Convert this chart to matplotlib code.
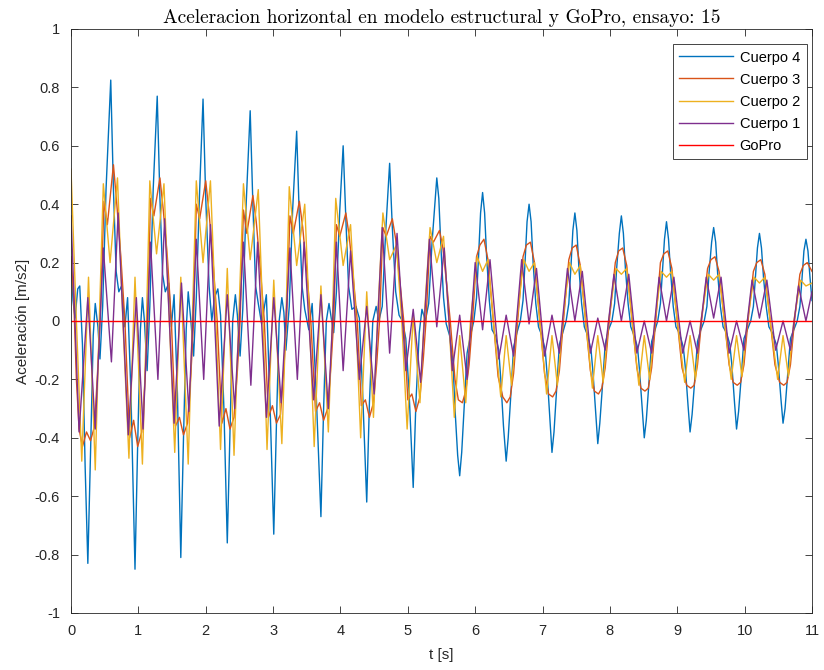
import matplotlib
matplotlib.use("Agg")
import matplotlib.pyplot as plt

plt.rcParams['font.family'] = ['Liberation Sans', 'DejaVu Sans']
plt.rcParams['axes.unicode_minus'] = False

# Cuerpo 4
t_c4 = [0.00, 0.03, 0.06, 0.10, 0.13, 0.17, 0.21, 0.25,
        0.29, 0.33, 0.36, 0.40, 0.43, 0.47, 0.52, 0.59,
        0.63, 0.67, 0.71, 0.75, 0.80, 0.84, 0.89, 0.95,
        0.99, 1.03, 1.06, 1.09, 1.13, 1.17, 1.22, 1.28,
        1.32, 1.36, 1.40, 1.45, 1.49, 1.53, 1.58, 1.63,
        1.67, 1.71, 1.74, 1.78, 1.82, 1.86, 1.91, 1.96,
        2.00, 2.05, 2.09, 2.13, 2.18, 2.22, 2.27, 2.32,
        2.36, 2.40, 2.44, 2.47, 2.51, 2.55, 2.60, 2.66,
        2.70, 2.74, 2.78, 2.83, 2.90, 2.95, 3.01,
        3.05, 3.09, 3.13, 3.16, 3.19, 3.24, 3.29, 3.35,
        3.39, 3.43, 3.47, 3.53, 3.58, 3.64, 3.71,
        3.75, 3.79, 3.83, 3.87, 3.90, 3.94, 3.99, 4.04,
        4.08, 4.12, 4.17, 4.23, 4.28, 4.33, 4.39,
        4.43, 4.48, 4.53, 4.57, 4.62, 4.67, 4.73,
        4.77, 4.82, 4.87, 4.92, 4.97, 5.02, 5.08,
        5.12, 5.17, 5.21, 5.26, 5.31, 5.36, 5.43,
        5.46, 5.49, 5.53, 5.57, 5.62, 5.67, 5.70, 5.74, 5.77,
        5.80, 5.84, 5.88, 5.93, 5.98, 6.02, 6.05, 6.08, 6.11,
        6.14, 6.17, 6.21, 6.25, 6.30, 6.35, 6.38, 6.42, 6.46,
        6.49, 6.53, 6.57, 6.62, 6.67, 6.71, 6.74, 6.77, 6.80,
        6.83, 6.86, 6.90, 6.94, 6.99, 7.04, 7.07, 7.11, 7.14,
        7.17, 7.21, 7.25, 7.30, 7.35, 7.39, 7.42, 7.45, 7.48,
        7.51, 7.54, 7.58, 7.62, 7.67, 7.72, 7.75, 7.79, 7.82,
        7.85, 7.89, 7.93, 7.98, 8.03, 8.07, 8.10, 8.14, 8.17,
        8.20, 8.23, 8.27, 8.31, 8.36, 8.41, 8.44, 8.48, 8.51,
        8.54, 8.58, 8.62, 8.67, 8.71, 8.75, 8.78, 8.81, 8.84,
        8.87, 8.90, 8.94, 8.98, 9.03, 9.09, 9.12, 9.16, 9.19,
        9.22, 9.26, 9.30, 9.35, 9.40, 9.44, 9.47, 9.51, 9.54,
        9.57, 9.60, 9.64, 9.68, 9.73, 9.78, 9.81, 9.85, 9.88,
        9.91, 9.95, 9.99, 10.04, 10.09, 10.13, 10.16, 10.19, 10.22,
        10.25, 10.28, 10.32, 10.36, 10.41, 10.47, 10.50, 10.54, 10.57,
        10.60, 10.64, 10.68, 10.73, 10.78, 10.82, 10.85, 10.88, 10.91,
        10.94, 10.97, 11.00]
a_c4 = [0.21, 0.07, 0.01, 0.11, 0.12, -0.08, -0.50, -0.83,
        -0.45, -0.05, 0.06, -0.02, -0.13, 0.05, 0.45, 0.825,
        0.45, 0.17, 0.10, 0.12, -0.02, 0.08, -0.25, -0.85,
        -0.42, -0.03, 0.08, 0.00, -0.17, 0.05, 0.45, 0.77,
        0.42, 0.16, 0.10, 0.13, -0.02, 0.09, -0.25, -0.81,
        -0.40, -0.03, 0.10, 0.00, -0.12, 0.08, 0.45, 0.76,
        0.42, 0.12, 0.00, 0.08, 0.11, 0.02, -0.30, -0.76,
        -0.38, 0.00, 0.09, 0.02, -0.12, 0.04, 0.40, 0.72,
        0.40, 0.12, 0.06, -0.01, 0.09, -0.25, -0.73,
        -0.35, 0.00, 0.08, 0.03, -0.10, 0.05, 0.38, 0.65,
        0.35, 0.12, 0.04, -0.03, 0.06, -0.25, -0.67,
        -0.30, 0.00, 0.06, 0.00, -0.04, 0.10, 0.38, 0.60,
        0.35, 0.12, 0.04, 0.05, 0.01, -0.25, -0.62,
        -0.28, 0.00, 0.05, 0.00, 0.05, 0.30, 0.54,
        0.32, 0.10, 0.02, 0.00, -0.06, -0.25, -0.57,
        -0.28, -0.04, 0.04, 0.00, 0.06, 0.27, 0.49,
        0.42, 0.26, 0.08, -0.01, -0.05, -0.14, -0.30, -0.46, -0.53,
        -0.45, -0.28, -0.11, -0.05, 0.00, 0.08, 0.22, 0.37, 0.44,
        0.37, 0.22, 0.07, -0.03, -0.05, -0.10, -0.20, -0.36, -0.48,
        -0.40, -0.25, -0.09, -0.04, 0.00, 0.07, 0.20, 0.34, 0.40,
        0.34, 0.20, 0.06, -0.02, -0.05, -0.10, -0.19, -0.34, -0.45,
        -0.38, -0.23, -0.08, -0.04, 0.00, 0.06, 0.18, 0.31, 0.37,
        0.31, 0.18, 0.06, -0.02, -0.05, -0.10, -0.18, -0.32, -0.42,
        -0.35, -0.22, -0.08, -0.03, 0.00, 0.06, 0.18, 0.30, 0.36,
        0.30, 0.18, 0.06, -0.02, -0.05, -0.09, -0.17, -0.30, -0.40,
        -0.34, -0.21, -0.07, -0.03, 0.00, 0.06, 0.17, 0.28, 0.34,
        0.28, 0.17, 0.05, -0.02, -0.04, -0.09, -0.16, -0.29, -0.38,
        -0.32, -0.20, -0.07, -0.03, 0.00, 0.05, 0.16, 0.27, 0.32,
        0.27, 0.16, 0.05, -0.02, -0.04, -0.08, -0.15, -0.28, -0.37,
        -0.31, -0.19, -0.06, -0.03, 0.00, 0.05, 0.15, 0.25, 0.30,
        0.25, 0.15, 0.05, -0.02, -0.04, -0.08, -0.15, -0.27, -0.35,
        -0.30, -0.18, -0.06, -0.03, 0.00, 0.05, 0.14, 0.24, 0.28,
        0.24, 0.15, 0.07]

# Cuerpo 3
t_c3 = [0.00, 0.04, 0.08, 0.12, 0.17, 0.23, 0.29, 0.35, 0.40, 0.44,
        0.49, 0.54, 0.63, 0.68, 0.74, 0.80,
        0.87, 0.93, 0.99, 1.05, 1.10, 1.14,
        1.18, 1.23, 1.32, 1.37, 1.43, 1.49,
        1.55, 1.61, 1.67, 1.73, 1.78, 1.82,
        1.86, 1.91, 2.00, 2.05, 2.11, 2.17,
        2.24, 2.30, 2.36, 2.42, 2.47, 2.51,
        2.56, 2.61, 2.70, 2.75, 2.81, 2.87,
        2.93, 2.99, 3.05, 3.11, 3.16, 3.20,
        3.25, 3.30, 3.39, 3.44, 3.50, 3.56,
        3.63, 3.69, 3.75, 3.81, 3.86, 3.90,
        3.94, 3.99, 4.08, 4.13, 4.19, 4.25,
        4.31, 4.37, 4.43, 4.49, 4.54, 4.58,
        4.63, 4.68, 4.77, 4.82, 4.88, 4.94,
        5.00, 5.06, 5.12, 5.18, 5.23, 5.27,
        5.33, 5.38, 5.47, 5.52, 5.58, 5.63,
        5.70, 5.75, 5.81, 5.86, 5.91, 5.96,
        6.02, 6.07, 6.13, 6.19, 6.27, 6.34,
        6.41, 6.47, 6.52, 6.57, 6.63,
        6.71, 6.76, 6.82, 6.88, 6.96, 7.03,
        7.09, 7.15, 7.20, 7.25, 7.31,
        7.39, 7.44, 7.50, 7.56, 7.64, 7.71,
        7.77, 7.83, 7.88, 7.93, 7.99,
        8.08, 8.13, 8.19, 8.25, 8.33, 8.40,
        8.46, 8.52, 8.57, 8.62, 8.68,
        8.75, 8.80, 8.86, 8.92, 9.00, 9.07,
        9.14, 9.20, 9.25, 9.30, 9.36,
        9.45, 9.50, 9.56, 9.62, 9.70, 9.77,
        9.83, 9.89, 9.94, 9.99, 10.05,
        10.13, 10.18, 10.24, 10.30, 10.38, 10.45,
        10.52, 10.58, 10.63, 10.68, 10.74,
        10.82, 10.87, 10.93, 11.00]
a_c3 = [0.22, 0.08, -0.20, -0.37, -0.43, -0.38, -0.41, -0.36, -0.15, 0.05,
        0.41, 0.33, 0.535, 0.40, 0.22, 0.00,
        -0.40, -0.34, -0.43, -0.38, -0.20, 0.00,
        0.42, 0.36, 0.49, 0.38, 0.22, 0.00,
        -0.36, -0.33, -0.39, -0.35, -0.18, 0.00,
        0.40, 0.35, 0.48, 0.37, 0.20, 0.00,
        -0.35, -0.30, -0.37, -0.33, -0.17, 0.00,
        0.38, 0.30, 0.43, 0.34, 0.18, 0.00,
        -0.33, -0.29, -0.35, -0.32, -0.16, 0.00,
        0.36, 0.30, 0.41, 0.32, 0.17, 0.00,
        -0.31, -0.28, -0.34, -0.30, -0.15, 0.00,
        0.33, 0.29, 0.37, 0.29, 0.15, 0.00,
        -0.29, -0.27, -0.33, -0.28, -0.14, 0.00,
        0.32, 0.29, 0.35, 0.28, 0.14, 0.00,
        -0.27, -0.25, -0.31, -0.26, -0.13, 0.00,
        0.29, 0.27, 0.31, 0.25, 0.12, 0.00,
        -0.20, -0.27, -0.28, -0.24, -0.15, 0.00,
        0.22, 0.26, 0.28, 0.21, 0.00, -0.19,
        -0.26, -0.28, -0.26, -0.18, 0.00,
        0.22, 0.26, 0.27, 0.20, 0.00, -0.18,
        -0.25, -0.26, -0.24, -0.17, 0.00,
        0.21, 0.25, 0.26, 0.19, 0.00, -0.17,
        -0.24, -0.25, -0.23, -0.16, 0.00,
        0.20, 0.24, 0.25, 0.19, 0.00, -0.16,
        -0.23, -0.24, -0.23, -0.16, 0.00,
        0.20, 0.23, 0.24, 0.18, 0.00, -0.16,
        -0.22, -0.23, -0.22, -0.15, 0.00,
        0.18, 0.21, 0.22, 0.17, 0.00, -0.15,
        -0.21, -0.22, -0.21, -0.15, 0.00,
        0.17, 0.20, 0.21, 0.16, 0.00, -0.15,
        -0.21, -0.22, -0.21, -0.15, 0.00,
        0.16, 0.19, 0.20, 0.17]

# Cuerpo 2
t_c2 = [0.00, 0.08,
        0.16, 0.26, 0.36, 0.42, 0.48, 0.58, 0.69, 0.77,
        0.86, 0.95, 1.06, 1.12, 1.17, 1.27, 1.38, 1.46,
        1.54, 1.63, 1.74, 1.80, 1.86, 1.96, 2.07, 2.15,
        2.22, 2.32, 2.42, 2.49, 2.56, 2.66, 2.78, 2.85,
        2.91, 3.01, 3.13, 3.19, 3.24, 3.35, 3.47, 3.54,
        3.61, 3.71, 3.82, 3.88, 3.93, 4.04, 4.15, 4.23,
        4.30, 4.39, 4.49, 4.55, 4.63, 4.73, 4.83, 4.91,
        4.99, 5.08, 5.18, 5.24, 5.33, 5.43, 5.53, 5.61,
        5.69, 5.77, 5.86, 5.93, 6.03, 6.11, 6.19, 6.27,
        6.38, 6.46, 6.54, 6.62, 6.72, 6.80, 6.88, 6.96,
        7.06, 7.14, 7.22, 7.30, 7.40, 7.48, 7.56, 7.64,
        7.74, 7.82, 7.90, 7.98, 8.09, 8.17, 8.25, 8.33,
        8.43, 8.51, 8.59, 8.67, 8.76, 8.84, 8.92, 9.00,
        9.11, 9.19, 9.27, 9.35, 9.46, 9.54, 9.62, 9.70,
        9.80, 9.88, 9.96, 10.04, 10.14, 10.22, 10.30, 10.38,
        10.49, 10.57, 10.65, 10.73, 10.83, 10.91, 11.00]
a_c2 = [0.52, 0.00,
        -0.48, 0.15, -0.51, 0.00, 0.47, 0.20, 0.49, 0.00,
        -0.47, 0.15, -0.49, 0.00, 0.48, 0.23, 0.47, 0.00,
        -0.45, 0.15, -0.49, 0.00, 0.48, 0.20, 0.48, 0.00,
        -0.44, 0.18, -0.46, 0.00, 0.47, 0.21, 0.45, 0.00,
        -0.44, 0.14, -0.42, 0.00, 0.46, 0.19, 0.40, 0.00,
        -0.43, 0.12, -0.38, 0.00, 0.42, 0.19, 0.33, 0.00,
        -0.40, 0.10, -0.33, 0.00, 0.37, 0.21, 0.26, 0.00,
        -0.37, 0.02, -0.28, 0.00, 0.32, 0.20, 0.29, 0.00,
        -0.33, -0.05, -0.28, 0.00, 0.22, 0.17, 0.21, 0.00,
        -0.26, -0.05, -0.22, 0.00, 0.21, 0.17, 0.20, 0.00,
        -0.25, -0.05, -0.22, 0.00, 0.20, 0.16, 0.19, 0.00,
        -0.23, -0.05, -0.21, 0.00, 0.18, 0.16, 0.18, 0.00,
        -0.22, -0.05, -0.20, 0.00, 0.17, 0.15, 0.17, 0.00,
        -0.21, -0.05, -0.20, 0.00, 0.16, 0.14, 0.16, 0.00,
        -0.20, -0.05, -0.19, 0.00, 0.15, 0.13, 0.15, 0.00,
        -0.20, -0.05, -0.19, 0.00, 0.14, 0.12, 0.13]

# Cuerpo 1
t_c1 = [0.00,
        0.12, 0.25, 0.36, 0.48, 0.60, 0.70,
        0.85, 0.97, 1.07, 1.18, 1.29, 1.39,
        1.53, 1.64, 1.75, 1.86, 1.97, 2.07,
        2.20, 2.32, 2.43, 2.56, 2.67, 2.77,
        2.90, 3.01, 3.12, 3.25, 3.36, 3.46,
        3.60, 3.71, 3.82, 3.94, 4.04, 4.15,
        4.28, 4.39, 4.50, 4.62, 4.73, 4.84,
        4.97, 5.08, 5.19, 5.32, 5.43, 5.54,
        5.66, 5.77, 5.88, 6.00, 6.11, 6.22,
        6.35, 6.46, 6.57, 6.69, 6.80, 6.91,
        7.03, 7.14, 7.25, 7.37, 7.48, 7.59,
        7.71, 7.82, 7.93, 8.06, 8.17, 8.28,
        8.40, 8.51, 8.62, 8.73, 8.84, 8.95,
        9.08, 9.19, 9.30, 9.43, 9.54, 9.65,
        9.77, 9.88, 9.99, 10.11, 10.22, 10.33,
        10.46, 10.57, 10.68, 10.80, 10.91, 11.00]
a_c1 = [0.36,
        -0.38, 0.08, -0.37, 0.25, -0.14, 0.37,
        -0.39, 0.08, -0.37, 0.27, -0.20, 0.35,
        -0.35, 0.13, -0.31, 0.28, -0.20, 0.33,
        -0.36, 0.09, -0.30, 0.27, -0.22, 0.27,
        -0.33, 0.08, -0.28, 0.25, -0.20, 0.27,
        -0.27, 0.09, -0.30, 0.27, -0.17, 0.24,
        -0.20, 0.05, -0.25, 0.32, -0.11, 0.30,
        -0.17, 0.04, -0.21, 0.28, -0.02, 0.25,
        -0.17, 0.02, -0.20, 0.20, -0.03, 0.21,
        -0.13, 0.02, -0.12, 0.21, -0.01, 0.18,
        -0.12, 0.02, -0.11, 0.18, 0.00, 0.17,
        -0.11, 0.01, -0.10, 0.16, 0.00, 0.16,
        -0.11, 0.00, -0.11, 0.15, 0.00, 0.15,
        -0.11, 0.00, -0.11, 0.15, 0.01, 0.15,
        -0.11, 0.00, -0.10, 0.14, 0.01, 0.14,
        -0.10, 0.00, -0.10, 0.12, 0.00, 0.10]

# GoPro
t_gopro = [0.0, 11.0]
a_gopro = [0.0, 0.0]

series = [
    (t_c4, a_c4, '#0072BD', 'Cuerpo 4'),
    (t_c3, a_c3, '#D95319', 'Cuerpo 3'),
    (t_c2, a_c2, '#EDB120', 'Cuerpo 2'),
    (t_c1, a_c1, '#7E2F8E', 'Cuerpo 1'),
    (t_gopro, a_gopro, '#FF0000', 'GoPro'),
]

x_ticks = list(range(0, 12))
y_ticks = [-1, -0.8, -0.6, -0.4, -0.2, 0, 0.2, 0.4, 0.6, 0.8, 1]
y_tick_labels = ['-1', '-0.8', '-0.6', '-0.4', '-0.2', '0', '0.2', '0.4', '0.6', '0.8', '1']

fig = plt.figure(figsize=(8.24, 6.70), dpi=100)
ax = fig.add_axes([71 / 824, 1 - 613 / 670, (812 - 71) / 824, (613 - 29) / 670])

for t, a, color, label in series:
    ax.plot(t, a, color=color, linewidth=1.0, label=label)

ax.set_xlim(0, 11)
ax.set_ylim(-1, 1)
ax.set_xticks(x_ticks)
ax.set_yticks(y_ticks)
ax.set_yticklabels(y_tick_labels)

axis_color = '#262626'
ax.tick_params(direction='in', length=5, width=0.6, top=True, right=True,
               labelsize=10.5, colors=axis_color)
ax.tick_params(axis='x', pad=8)
ax.tick_params(axis='y', pad=8)
for s in ax.spines.values():
    s.set_color(axis_color)
    s.set_linewidth(0.6)

ax.set_xlabel('t [s]', fontsize=11, color=axis_color, labelpad=7)
ax.set_ylabel('Aceleración [m/s2]', fontsize=11, color=axis_color, labelpad=3)
ax.set_title('Aceleracion horizontal en modelo estructural y GoPro, ensayo: 15',
             family='cmr10', fontsize=14, pad=4)

leg = ax.legend(loc='upper right', bbox_to_anchor=(0.9926, 0.9743),
                borderaxespad=0, fontsize=10.5, fancybox=False, framealpha=1,
                edgecolor=axis_color, handlelength=3.7, handletextpad=0.45,
                labelspacing=0.55, borderpad=0.45)
leg.get_frame().set_linewidth(0.6)

fig.savefig('out.png', dpi=100)
